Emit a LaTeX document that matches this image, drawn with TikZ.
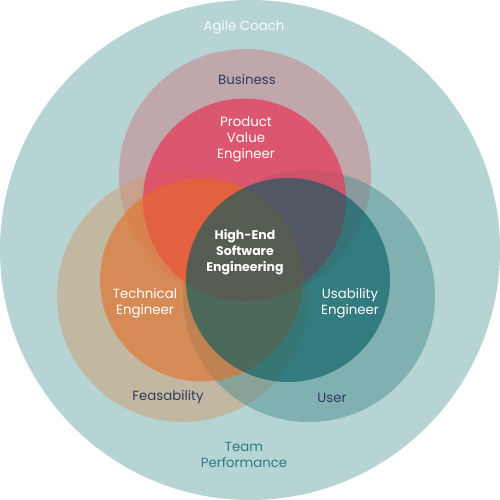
\documentclass[tikz,border=0pt]{standalone}
\usepackage{fontspec}
\setmainfont{Poppins}
\definecolor{bg}{RGB}{181,212,211}
\definecolor{busc}{RGB}{203,124,135}
\definecolor{feac}{RGB}{207,156,113}
\definecolor{usrc}{RGB}{79,142,143}
\definecolor{redc}{RGB}{229,61,92}
\definecolor{orac}{RGB}{230,108,34}
\definecolor{tealc}{RGB}{0,89,95}
\definecolor{navy}{RGB}{46,60,92}
\definecolor{teamc}{RGB}{43,125,128}
\begin{document}
\begin{tikzpicture}[x=1pt,y=-1pt,
  lbl/.style={align=center,font=\fontsize{13.3}{16}\selectfont,inner sep=0pt},
  wlbl/.style={lbl,text=white},
  nlbl/.style={lbl,text=navy}]
\useasboundingbox (0,0) rectangle (500,500);
\fill[bg] (250,250) circle (250);
\fill[busc,opacity=.5] (245,175) circle (126);
\fill[feac,opacity=.5] (183,296) circle (126);
\fill[usrc,opacity=.5] (309,296) circle (126);
\fill[redc,opacity=.75] (244.5,200) circle (101.5);
\fill[orac,opacity=.58] (201.5,280) circle (101.5);
\fill[tealc,opacity=.6] (288,280) circle (102);
\node[lbl,text=white!95!bg] (agile) at (244,27) {Agile Coach};
\node[nlbl] (business) at (247,80) {Business};
\node[wlbl] (pve) at (246,139) {Product\\Value\\Engineer};
\node[wlbl,font=\fontsize{12.5}{16}\selectfont\bfseries] (hese) at (245,252) {High-End\\Software\\Engineering};
\node[wlbl] (tech) at (145,303) {Technical\\Engineer};
\node[wlbl] (usab) at (350,303) {Usability\\Engineer};
\node[nlbl] (feas) at (168,397) {Feasability};
\node[nlbl] (user) at (332,398) {User};
\node[lbl,text=teamc] (team) at (244,455) {Team\\Performance};
\end{tikzpicture}
\end{document}
